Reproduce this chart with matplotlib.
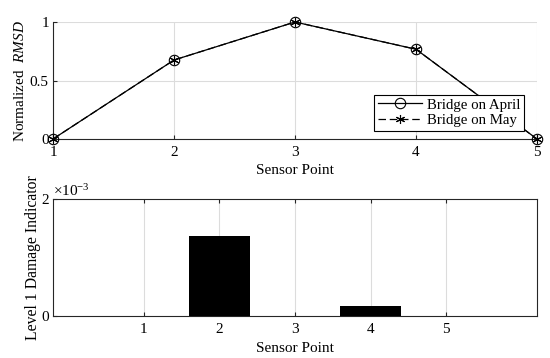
import matplotlib
matplotlib.use("Agg")
import matplotlib.pyplot as plt

plt.rcParams['font.family'] = ['Liberation Serif', 'DejaVu Serif']
plt.rcParams['mathtext.fontset'] = 'custom'
plt.rcParams['mathtext.rm'] = 'Liberation Serif'
plt.rcParams['mathtext.it'] = 'Liberation Serif:italic'

sensor_points = [1, 2, 3, 4, 5]
rmsd_april = [0.0, 0.675, 1.0, 0.767, 0.0]
rmsd_may = [0.0, 0.675, 1.0, 0.767, 0.0]
damage_indicator = [0.0, 1.37e-3, 0.0, 0.176e-3, 0.0]

fig = plt.figure(figsize=(5.5, 3.58), dpi=100)
W, H = 550, 358
ax1 = fig.add_axes([53 / W, 1 - 139 / H, (537 - 53) / W, (139 - 22) / H])
ax2 = fig.add_axes([53 / W, 1 - 316 / H, (537 - 53) / W, (316 - 199) / H])

fs = 11
edge = '#262626'

ax1.plot(sensor_points, rmsd_april, '-', color='black', lw=0.9, marker='o',
         markersize=7.5, markerfacecolor='none', markeredgewidth=0.8,
         label='Bridge on April', clip_on=False, zorder=4)
ax1.plot(sensor_points, rmsd_may, '--', color='black', lw=0.9, marker=(6, 2, 0),
         markersize=6.5, markeredgewidth=0.8, label='Bridge on May', dashes=(6, 3),
         clip_on=False, zorder=4)
ax1.set_xlim(1, 5)
ax1.set_ylim(0, 1)
ax1.set_xticks(sensor_points)
ax1.set_yticks([0, 0.5, 1])
ax1.set_yticklabels(['0', '0.5', '1'])
ax1.grid(True, color='#dcdcdc', lw=0.8)
ax1.set_axisbelow(True)
ax1.set_xlabel('Sensor Point', fontsize=fs, labelpad=4)
ax1.set_ylabel(r'Normalized  $\mathit{RMSD}$', fontsize=fs, labelpad=2)
ax1.spines['top'].set_visible(False)
ax1.spines['right'].set_visible(False)
leg = ax1.legend(loc='lower right', bbox_to_anchor=(0.973, 0.068), fontsize=fs - 0.3,
                 fancybox=False, framealpha=1, edgecolor='black', handlelength=3.0,
                 borderpad=0.25, labelspacing=0.15, handletextpad=0.3, borderaxespad=0)
leg.get_frame().set_linewidth(0.8)

ax2.bar(sensor_points, damage_indicator, width=0.8, color='black', zorder=3)
ax2.set_xlim(-0.2, 6.2)
ax2.set_ylim(0, 2e-3)
ax2.set_xticks(sensor_points)
ax2.set_yticks([0, 2e-3])
ax2.set_yticklabels(['0', '2'])
ax2.grid(True, axis='x', color='#dcdcdc', lw=0.8)
ax2.set_axisbelow(True)
ax2.set_xlabel('Sensor Point', fontsize=fs, labelpad=4)
ax2.set_ylabel('Level 1 Damage Indicator', fontsize=fs + 0.3, labelpad=0)
ax2.text(0.0, 1.0, r'$\times10^{-3}$', transform=ax2.transAxes, fontsize=fs,
         ha='left', va='bottom')

for ax in (ax1, ax2):
    for s in ax.spines.values():
        s.set_color(edge)
        s.set_linewidth(0.8)
ax1.tick_params(direction='in', length=3, width=0.8, color=edge,
                labelsize=fs, pad=5, top=False, right=False)
ax1.tick_params(axis='y', pad=3)
ax2.tick_params(direction='in', length=3, width=0.8, color=edge,
                labelsize=fs, pad=5, top=True, right=False)
ax2.tick_params(axis='y', pad=3)

fig.savefig('out.png', dpi=100)
